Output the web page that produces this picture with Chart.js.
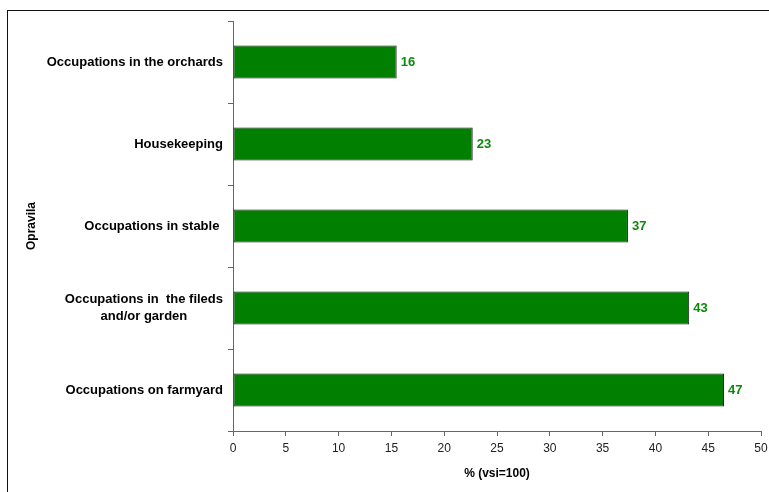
<!DOCTYPE html>
<html>
<head>
<meta charset="utf-8">
<script src="https://cdn.jsdelivr.net/npm/chart.js@4/dist/chart.umd.min.js"></script>
<style>
  html, body { margin: 0; padding: 0; background: #fff; overflow: hidden; }
  #wrap { position: relative; width: 769px; height: 492px; }
  #frame { position: absolute; left: 7px; top: 10px; width: 800px; height: 600px; border: 1px solid #111; box-sizing: border-box; }
  #mycanvas { position: absolute; left: 0; top: 0; }
</style>
</head>
<body>
<div id="wrap">
  <div id="frame"></div>
  <canvas id="mycanvas" width="769" height="492"></canvas>
</div>
<script>
var categories = [
  'Occupations in the orchards',
  'Housekeeping',
  'Occupations in stable ',
  ['Occupations in  the fileds', 'and/or garden'],
  'Occupations on farmyard'
];
var shares = [15.5, 22.7, 37.4, 43.2, 46.5];
var valueLabels = ['16', '23', '37', '43', '47'];
var xTicks = [0, 5, 10, 15, 20, 25, 30, 35, 40, 45, 50];

var axisGrey = '#666';
var labelFont = 'bold 13px "Liberation Sans", Arial, sans-serif';

// y labels: block right aligned, lines centred inside the block
var yLabelPlugin = {
  id: 'yLabels',
  afterDraw: function(chart){
    var ctx = chart.ctx;
    var yScale = chart.scales.y;
    ctx.save();
    ctx.font = labelFont;
    ctx.fillStyle = '#000';
    ctx.textBaseline = 'middle';
    ctx.textAlign = 'center';
    for(var i = 0; i < categories.length; i++){
      var lines = Array.isArray(categories[i]) ? categories[i] : [categories[i]];
      var w = 0;
      for(var j = 0; j < lines.length; j++){
        w = Math.max(w, ctx.measureText(lines[j]).width);
      }
      var cx = 223 - w / 2;
      var cy = yScale.getPixelForTick(i);
      var lh = 17;
      var start = cy - (lines.length - 1) * lh / 2;
      for(var j = 0; j < lines.length; j++){
        ctx.fillText(lines[j], cx, start + j * lh);
      }
    }
    ctx.restore();
  }
};

// value labels at the bar ends
var valuePlugin = {
  id: 'valueLabels',
  afterDatasetsDraw: function(chart){
    var ctx = chart.ctx;
    var meta = chart.getDatasetMeta(0);
    ctx.save();
    ctx.font = labelFont;
    ctx.fillStyle = '#0b8a0b';
    ctx.textBaseline = 'middle';
    ctx.textAlign = 'left';
    meta.data.forEach(function(bar, i){
      ctx.fillText(valueLabels[i], bar.x + 4, bar.y);
    });
    ctx.restore();
  }
};

var ctx = document.getElementById('mycanvas');
var mychart = new Chart(ctx, {
  type: 'bar',
  data: {
    labels: categories,
    datasets: [{
      label: '%',
      data: shares,
      backgroundColor: '#007f00',
      borderColor: '#1b1b1b',
      borderWidth: 1,
      borderSkipped: false,
      barPercentage: 0.4,
      categoryPercentage: 1
    }]
  },
  options: {
    indexAxis: 'y',
    responsive: false,
    animation: false,
    layout: { padding: { left: 0, top: 21, right: 8, bottom: 0 } },
    plugins: {
      legend: { display: false },
      tooltip: { enabled: false },
      title: { display: false }
    },
    scales: {
      x: {
        min: 0,
        max: 50,
        afterBuildTicks: function(scale){
          scale.ticks = xTicks.map(function(v){ return { value: v }; });
        },
        afterFit: function(scale){
          scale.height = 61;
          scale.paddingRight = 0;
          scale.paddingLeft = 0;
        },
        grid: { display: true, drawOnChartArea: false, drawTicks: true, tickLength: 5, color: axisGrey },
        border: { display: true, color: axisGrey, width: 1 },
        ticks: {
          color: '#222',
          padding: 5,
          maxRotation: 0,
          font: { family: '"Liberation Sans", Arial, sans-serif', size: 12 }
        },
        title: {
          display: true,
          text: '% (vsi=100)',
          color: '#000',
          font: { family: '"Liberation Sans", Arial, sans-serif', size: 12, weight: 'bold' },
          padding: { top: 0, bottom: 11 }
        }
      },
      y: {
        afterFit: function(scale){ scale.width = 233; },
        grid: { display: true, drawOnChartArea: false, drawTicks: true, tickLength: 5, color: axisGrey, offset: true },
        border: { display: true, color: axisGrey, width: 1 },
        ticks: { display: false },
        title: {
          display: true,
          text: 'Opravila',
          color: '#000',
          font: { family: '"Liberation Sans", Arial, sans-serif', size: 12, weight: 'bold' },
          padding: { top: 24, bottom: 0 }
        }
      }
    }
  },
  plugins: [yLabelPlugin, valuePlugin]
});
</script>
</body>
</html>
